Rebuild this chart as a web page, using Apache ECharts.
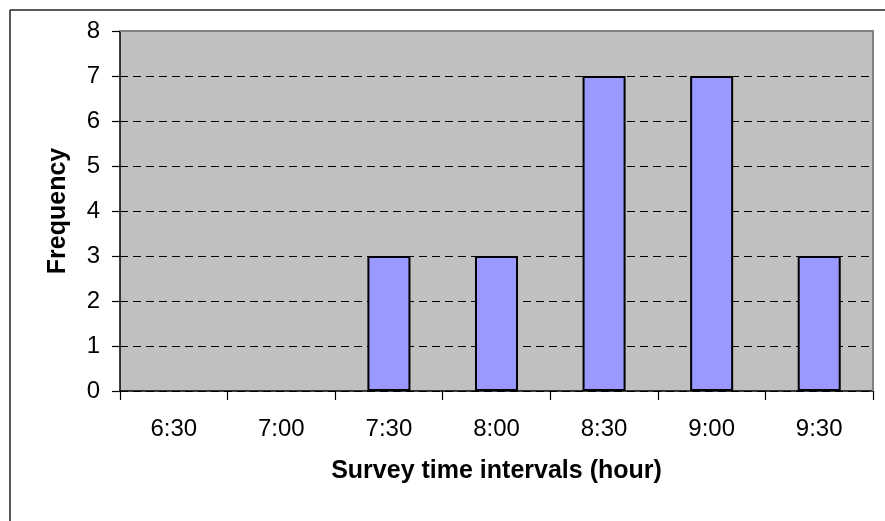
<!DOCTYPE html>
<html>
<head>
<meta charset="utf-8">
<script src="https://cdn.jsdelivr.net/npm/echarts@6/dist/echarts.min.js"></script>
<style>html,body{margin:0;padding:0;background:#fff;}#c{width:885px;height:521px;}</style>
</head>
<body>
<div id="c"></div>
<script>
const categories = ['6:30', '7:00', '7:30', '8:00', '8:30', '9:00', '9:30'];
const frequency = [0, 0, 3, 3, 7, 7, 3];
const yTicks = [0, 1, 2, 3, 4, 5, 6, 7, 8];

const chart = echarts.init(document.getElementById('c'));
const font = 'Liberation Sans, Arial, sans-serif';
const G = { left: 120, top: 31, right: 12, bottom: 130 };
chart.setOption({
  animation: false,
  backgroundColor: '#ffffff',
  grid: {
    left: G.left, top: G.top, right: G.right, bottom: G.bottom,
    show: true, backgroundColor: '#C0C0C0', borderColor: '#808080', borderWidth: 0
  },
  graphic: [
    { type: 'line', shape: { x1: 10, y1: 10, x2: 885, y2: 10 }, style: { stroke: '#222', lineWidth: 1.5 }, z: 10 },
    { type: 'line', shape: { x1: 10, y1: 10, x2: 10, y2: 521 }, style: { stroke: '#222', lineWidth: 1.5 }, z: 10 },
    { type: 'polyline', shape: { points: [[G.left, G.top], [885 - G.right, G.top], [885 - G.right, 521 - G.bottom]] },
      style: { stroke: '#808080', lineWidth: 2, fill: null }, z: 50 }
  ],
  xAxis: {
    type: 'category',
    data: categories,
    boundaryGap: true,
    name: 'Survey time intervals (hour)',
    nameLocation: 'middle',
    nameGap: 68,
    nameTextStyle: { fontFamily: font, fontSize: 25, fontWeight: 'bold', color: '#000' },
    axisLine: { show: true, lineStyle: { color: '#000', width: 1.5 } },
    axisTick: { show: true, length: 9, inside: false, lineStyle: { color: '#000', width: 1.2 } },
    axisLabel: { fontFamily: font, fontSize: 24, color: '#000', margin: 26 },
    splitLine: { show: false }
  },
  yAxis: {
    type: 'value',
    min: yTicks[0],
    max: yTicks[yTicks.length - 1],
    interval: 1,
    name: 'Frequency',
    nameLocation: 'middle',
    nameGap: 49,
    nameRotate: 90,
    nameTextStyle: { fontFamily: font, fontSize: 25, fontWeight: 'bold', color: '#000' },
    axisLine: { show: true, lineStyle: { color: '#000', width: 1.5 } },
    axisTick: { show: true, length: 8, inside: false, lineStyle: { color: '#000', width: 1.2 } },
    axisLabel: { fontFamily: font, fontSize: 24, color: '#000', margin: 20 },
    splitLine: { show: true, lineStyle: { color: '#000', type: [8, 5], width: 1 } }
  },
  series: [{
    type: 'bar',
    data: frequency.map(v => (v === 0 ? null : v)),
    barWidth: '40%',
    itemStyle: { color: '#9999FF', borderColor: '#000', borderWidth: 2 }
  }]
});
</script>
</body>
</html>
